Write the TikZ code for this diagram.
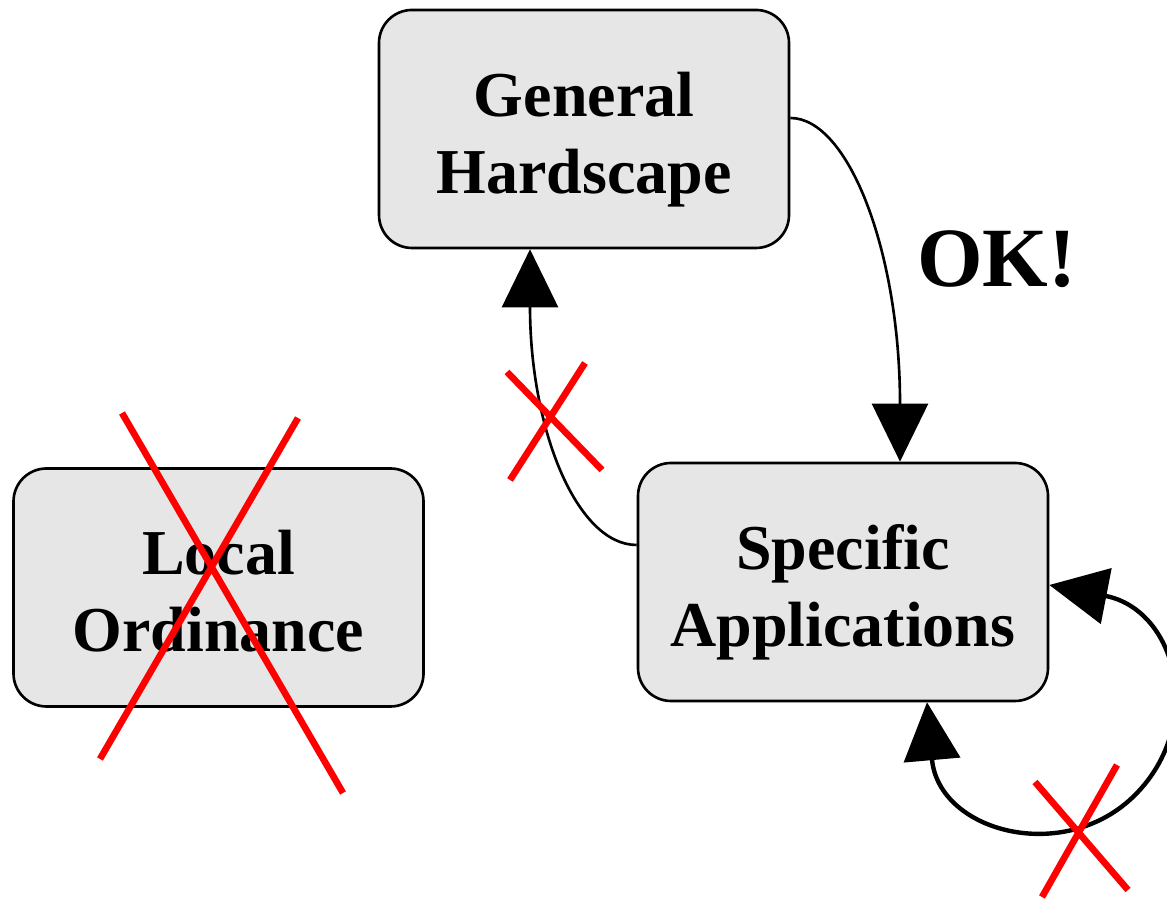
\documentclass[tikz,border=0pt]{standalone}
\usepackage{fontspec}
\setmainfont{Liberation Serif}
\usetikzlibrary{arrows.meta}

\definecolor{boxgray}{RGB}{230,230,230}

\tikzset{
  box/.style={draw, line width=0.75pt, fill=boxgray, rounded corners=3.3mm,
    minimum width=4.1cm, minimum height=2.38cm, inner sep=0pt, align=center,
    text height=14.3mm, text depth=1.4mm,
    font=\fontsize{18.2}{22}\selectfont\bfseries},
  flow/.style={line width=0.75pt, -{Triangle[length=5.8mm,width=5.6mm]}},
  selfloop/.style={line width=1.25pt,
    {Triangle[length=5.8mm,width=5.6mm]}-{Triangle[length=5.8mm,width=5.6mm]}},
  cross/.style={red, line width=1.9pt}
}

\begin{document}
\begin{tikzpicture}
    \useasboundingbox (0,0) rectangle (11.67,8.99);
      \node[box] (gh) at (5.84,7.70) {General\\Hardscape};
      \node[box] (lo) at (2.185,3.115) {Local\\Ordinance};
      \node[box] (sa) at (8.43,3.17) {Specific\\Applications};
      \node[font=\fontsize{24}{28}\selectfont\bfseries] (ok) at (9.97,6.40) {OK!};
      \coordinate (lp) at (11.35,1.04);
    \draw [flow] ([yshift=1.1mm]gh.east) to[out=0, in=90, out distance=5.8mm, in distance=21mm] ([xshift=5.7mm]sa.north);
    \draw [flow] ([yshift=3.7mm]sa.west) to[out=180, in=-90, out distance=6mm, in distance=18mm] ([xshift=-5.4mm]gh.south);
    \draw [selfloop] ([yshift=-0.3mm]sa.east) to[out=-11, in=45, out distance=13mm, in distance=10mm] (lp)
      to[out=225, in=-85, out distance=10mm, in distance=13mm] ([xshift=8.4mm]sa.south);
    \draw [cross] (1.22,4.86) -- (3.43,1.06) (2.98,4.81) -- (1.00,1.40);
    \draw [cross] (5.07,5.27) -- (6.02,4.29) (5.85,5.36) -- (5.10,4.19);
    \draw [cross] (10.35,1.17) -- (11.28,0.09) (11.17,1.34) -- (10.42,0.02);
\end{tikzpicture}
\end{document}
